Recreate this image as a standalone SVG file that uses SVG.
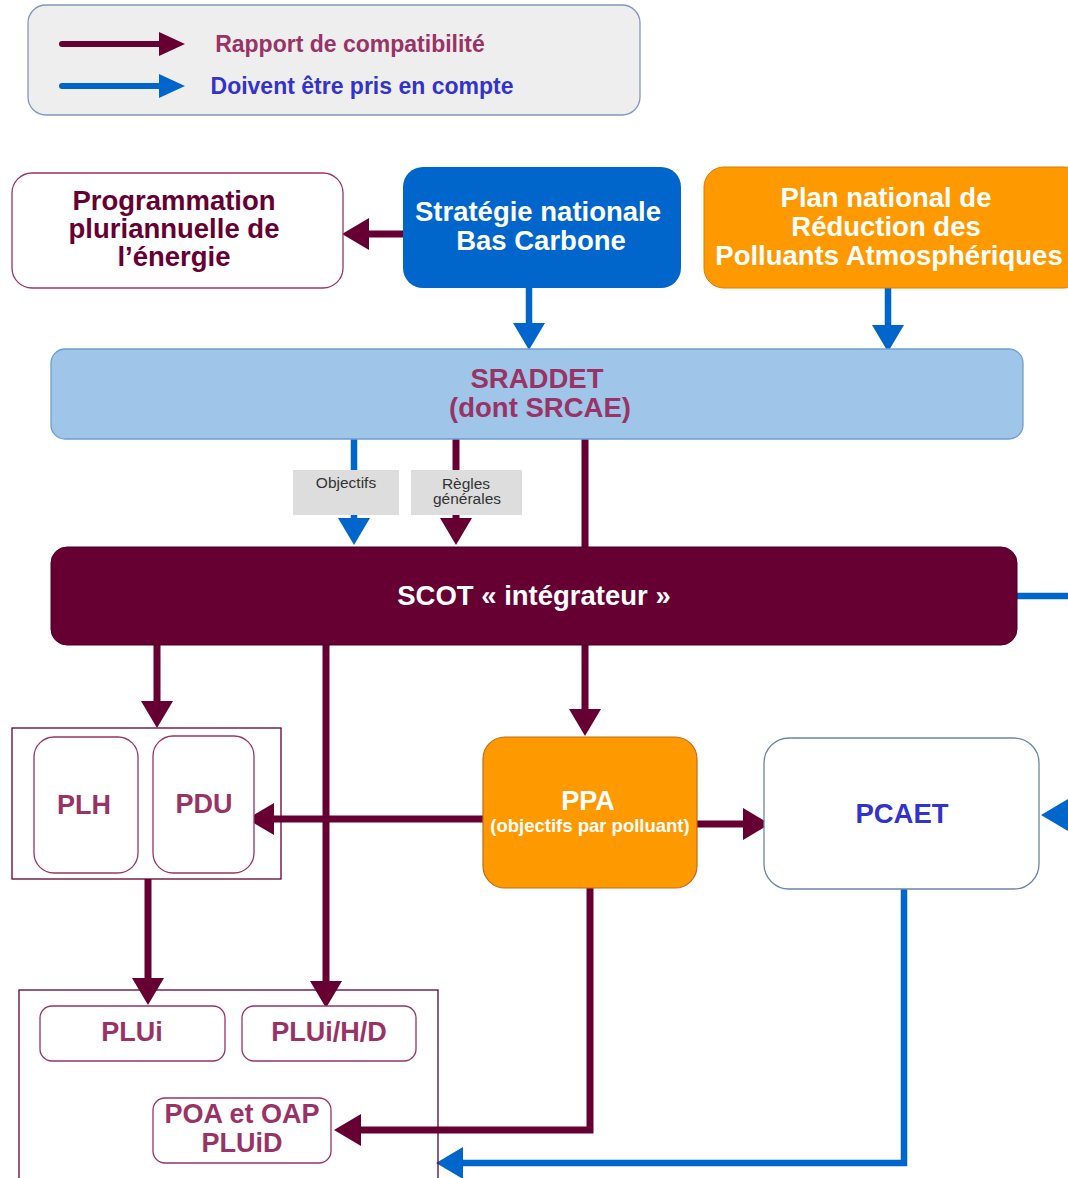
<svg xmlns="http://www.w3.org/2000/svg" width="1068" height="1178" viewBox="0 0 1068 1178">
<style>
text{font-family:"Liberation Sans",Arial,sans-serif;font-weight:bold;text-anchor:middle}
.m{stroke:#660033;stroke-width:7;fill:none}
.b{stroke:#0066cc;stroke-width:6.5;fill:none}
.am{marker-end:url(#hm)}
.ab{marker-end:url(#hb)}
.small{stroke:#993366;stroke-width:1.3;fill:#fff}
.t1{fill:#993366;font-size:27px}
.big{font-size:27.5px}
.lbl{fill:#dddddd}
.lt{font-weight:normal;fill:#333;font-size:15.5px}
</style>
<defs>
<marker id="hm" markerUnits="userSpaceOnUse" markerWidth="28" markerHeight="32" refX="1" refY="16" orient="auto" viewBox="0 0 28 32" overflow="visible"><path d="M0,0 L27,16 L0,32 z" fill="#660033"/></marker>
<marker id="hb" markerUnits="userSpaceOnUse" markerWidth="28" markerHeight="32" refX="1" refY="16" orient="auto" viewBox="0 0 28 32" overflow="visible"><path d="M0,0 L27,16 L0,32 z" fill="#0066cc"/></marker>
<marker id="lm" markerUnits="userSpaceOnUse" markerWidth="27" markerHeight="24" refX="1" refY="12" orient="auto" viewBox="0 0 27 24" overflow="visible"><path d="M0,0 L26,12 L0,24 z" fill="#660033"/></marker>
<marker id="lb" markerUnits="userSpaceOnUse" markerWidth="27" markerHeight="24" refX="1" refY="12" orient="auto" viewBox="0 0 27 24" overflow="visible"><path d="M0,0 L26,12 L0,24 z" fill="#0066cc"/></marker>
</defs>
<rect width="1068" height="1178" fill="#fff"/>

<g id="legend">
<rect x="28" y="5" width="612" height="110" rx="18" fill="#eeeeee" stroke="#8096bf" stroke-width="1.3"/>
<line x1="62" y1="44" x2="160" y2="44" stroke="#660033" stroke-width="6" stroke-linecap="round" marker-end="url(#lm)"/>
<line x1="62" y1="86" x2="160" y2="86" stroke="#0066cc" stroke-width="6" stroke-linecap="round" marker-end="url(#lb)"/>
<text x="350" y="52" fill="#993366" font-size="23">Rapport de compatibilité</text>
<text x="362" y="94" fill="#3333cc" font-size="23">Doivent être pris en compte</text>
</g>

<g id="connectors">
<line class="m am" x1="403" y1="234" x2="368" y2="234"/>
<line class="b ab" x1="529" y1="288" x2="529" y2="324"/>
<line class="b ab" x1="888" y1="288" x2="888" y2="326"/>
<line class="b" x1="354" y1="439" x2="354" y2="470"/>
<line class="m" x1="456" y1="439" x2="456" y2="470"/>
<line class="b ab" x1="354" y1="515" x2="354" y2="519"/>
<line class="m am" x1="456" y1="515" x2="456" y2="519"/>
<line class="m" x1="585" y1="439" x2="585" y2="548"/>
<line class="b" x1="1017" y1="596" x2="1068" y2="596"/>
<line class="m am" x1="157" y1="645" x2="157" y2="702"/>
<line class="m am" x1="326" y1="645" x2="326" y2="982"/>
<line class="m am" x1="585" y1="645" x2="585" y2="710"/>
<line class="m am" x1="484" y1="819" x2="273" y2="819"/>
<line class="m am" x1="697" y1="824" x2="744" y2="824"/>
<line class="b ab" x1="1068" y1="815" x2="1067" y2="815"/>
<line class="m am" x1="148" y1="879" x2="148" y2="979"/>
<polyline class="m am" points="590,888 590,1130 360,1130"/>
<polyline class="b ab" points="904,889 904,1163 462,1163"/>
</g>

<g id="programmation">
<rect x="12" y="173" width="331" height="115" rx="20" fill="#fff" stroke="#993366" stroke-width="1.3"/>
<text fill="#660033" class="big"><tspan x="174" y="210">Programmation</tspan><tspan x="174" y="238">pluriannuelle de</tspan><tspan x="174" y="266">l’énergie</tspan></text>
</g>

<g id="strategie">
<rect x="403" y="167" width="278" height="121" rx="20" fill="#0066cc"/>
<text fill="#fff" class="big"><tspan x="538" y="221">Stratégie nationale</tspan><tspan x="541" y="250">Bas Carbone</tspan></text>
</g>

<g id="plan-national">
<rect x="704" y="167" width="380" height="121" rx="20" fill="#ff9900" stroke="#e07b00" stroke-width="1"/>
<text fill="#fff" class="big"><tspan x="886" y="207">Plan national de</tspan><tspan x="886" y="236">Réduction des</tspan><tspan x="889" y="265">Polluants Atmosphériques</tspan></text>
</g>

<g id="sraddet">
<rect x="51" y="349" width="972" height="90" rx="14" fill="#9fc5e8" stroke="#6f9fcf" stroke-width="1.3"/>
<text fill="#993366" class="big"><tspan x="537" y="388">SRADDET</tspan><tspan x="540" y="417">(dont SRCAE)</tspan></text>
</g>

<g id="label-objectifs">
<rect class="lbl" x="293" y="470" width="106" height="45"/>
<text class="lt" x="346" y="488">Objectifs</text>
</g>
<g id="label-regles">
<rect class="lbl" x="411" y="470" width="111" height="45"/>
<text class="lt"><tspan x="466" y="489">Règles</tspan><tspan x="467" y="504">générales</tspan></text>
</g>

<g id="scot">
<rect x="51" y="547" width="966" height="98" rx="16" fill="#660033" stroke="#4a0025" stroke-width="1"/>
<text x="534" y="605" fill="#fff" class="big">SCOT « intégrateur »</text>
</g>

<g id="plh-pdu-group">
<rect x="12" y="728" width="269" height="151" fill="none" stroke="#660033" stroke-width="1.3"/>
</g>
<g id="plh">
<rect class="small" x="34" y="737" width="104" height="136" rx="20"/>
<text class="t1" x="84" y="814">PLH</text>
</g>
<g id="pdu">
<rect class="small" x="153" y="736" width="101" height="137" rx="20"/>
<text class="t1" x="204" y="813">PDU</text>
</g>

<g id="ppa">
<rect x="483" y="737" width="214" height="151" rx="22" fill="#ff9900" stroke="#c26a1a" stroke-width="1.2"/>
<text fill="#fff" font-size="27" x="588" y="810">PPA</text>
<text fill="#fff" font-size="18.5" x="590" y="832">(objectifs par polluant)</text>
</g>

<g id="pcaet">
<rect x="764" y="738" width="275" height="151" rx="25" fill="#fff" stroke="#6a86a8" stroke-width="1.3"/>
<text x="902" y="823" fill="#3333cc" class="big">PCAET</text>
</g>

<g id="plu-group">
<rect x="19" y="990" width="419" height="200" fill="none" stroke="#660033" stroke-width="1.3"/>
</g>
<g id="plui">
<rect class="small" x="40" y="1006" width="185" height="55" rx="12"/>
<text class="t1" x="132" y="1041">PLUi</text>
</g>
<g id="pluihd">
<rect class="small" x="242" y="1006" width="174" height="55" rx="12"/>
<text class="t1" x="329" y="1041">PLUi/H/D</text>
</g>
<g id="poa">
<rect class="small" x="153" y="1098" width="178" height="65" rx="12"/>
<text class="t1"><tspan x="242" y="1123">POA et OAP</tspan><tspan x="242" y="1152">PLUiD</tspan></text>
</g>
</svg>
